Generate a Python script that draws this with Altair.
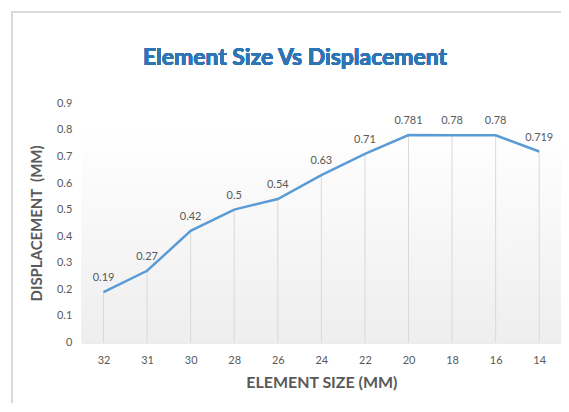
import altair as alt
import pandas as pd

sizes = ["32", "31", "30", "28", "26", "24", "22", "20", "18", "16", "14"]
displacement = [0.19, 0.27, 0.42, 0.5, 0.54, 0.63, 0.71, 0.781, 0.78, 0.78, 0.719]
labels = ["0.19", "0.27", "0.42", "0.5", "0.54", "0.63", "0.71", "0.781", "0.78", "0.78", "0.719"]
y_ticks = [0, 0.1, 0.2, 0.3, 0.4, 0.5, 0.6, 0.7, 0.8, 0.9]
title_text = "Element Size Vs Displacement"

df = pd.DataFrame({"size": sizes, "disp": displacement, "label": labels})

W, H = 481, 240
FONT = "Lato"
GREY = "#595959"

xscale = alt.Scale(type="point", padding=0.5, domain=sizes)
yscale = alt.Scale(domain=[0, 0.9], nice=False)

x_axis = alt.Axis(title="ELEMENT SIZE (MM)", labelAngle=0, ticks=False,
                  domainColor="#d9d9d9", labelColor=GREY, labelFont=FONT,
                  labelFontSize=11, labelPadding=12, titleFont=FONT,
                  titleFontSize=16, titleFontWeight="bold", titleColor=GREY,
                  titlePadding=9, grid=False)
y_axis = alt.Axis(title="DISPLACEMENT\u00a0\u00a0(MM)", values=y_ticks, format="~g",
                  ticks=False, domain=False, grid=False, labelColor=GREY,
                  labelFont=FONT, labelFontSize=11, labelPadding=10,
                  labelOverlap=False,
                  titleFont=FONT, titleFontSize=15, titleFontWeight="bold",
                  titleColor=GREY, titlePadding=12)

x_enc = alt.X("size:N", sort=None, scale=xscale, axis=x_axis)
y_enc = alt.Y("disp:Q", scale=yscale, axis=y_axis)

frame = alt.Chart(df).mark_rect(fill="white", fillOpacity=0, stroke="#d9d9d9",
                                strokeWidth=1).encode(
    x=alt.value(-70), x2=alt.value(620), y=alt.value(-92), y2=alt.value(420))

bg = alt.Chart(df).mark_rect(
    fill=alt.LinearGradient(gradient="linear", x1=0, x2=0, y1=0, y2=1,
                            stops=[alt.GradientStop(color="#ffffff", offset=0),
                                   alt.GradientStop(color="#eeeeee", offset=1)])
).encode(x=alt.value(0), x2=alt.value(W),
         y=alt.Y(datum=0.805, scale=yscale, axis=y_axis), y2=alt.datum(0))

rules = alt.Chart(df).mark_rule(color="#d9d9d9", strokeWidth=1).encode(
    x=x_enc, y=y_enc, y2=alt.datum(0))

line = alt.Chart(df).mark_line(color="#5b9bd5", strokeWidth=2.5).encode(x=x_enc, y=y_enc)

text = alt.Chart(df).mark_text(dy=-14, font=FONT, fontSize=11, color=GREY).encode(
    x=x_enc, y=y_enc, text="label:N")

title = alt.Chart(df).mark_text(font=FONT, fontSize=23, fontWeight="bold",
                                color="#2e75b6", align="center", baseline="middle").encode(
    x=alt.value(214), y=alt.value(-46), text=alt.value(title_text))

chart = alt.layer(frame, bg, rules, line, text, title).properties(
    width=W, height=H,
    autosize=alt.AutoSizeParams(type="none"),
    padding={"left": 74, "top": 95, "right": 0, "bottom": 60},
).configure(background="white").configure_view(strokeWidth=0, stroke="transparent")

chart.save("out.html", embed_options={"renderer": "svg", "actions": False})
